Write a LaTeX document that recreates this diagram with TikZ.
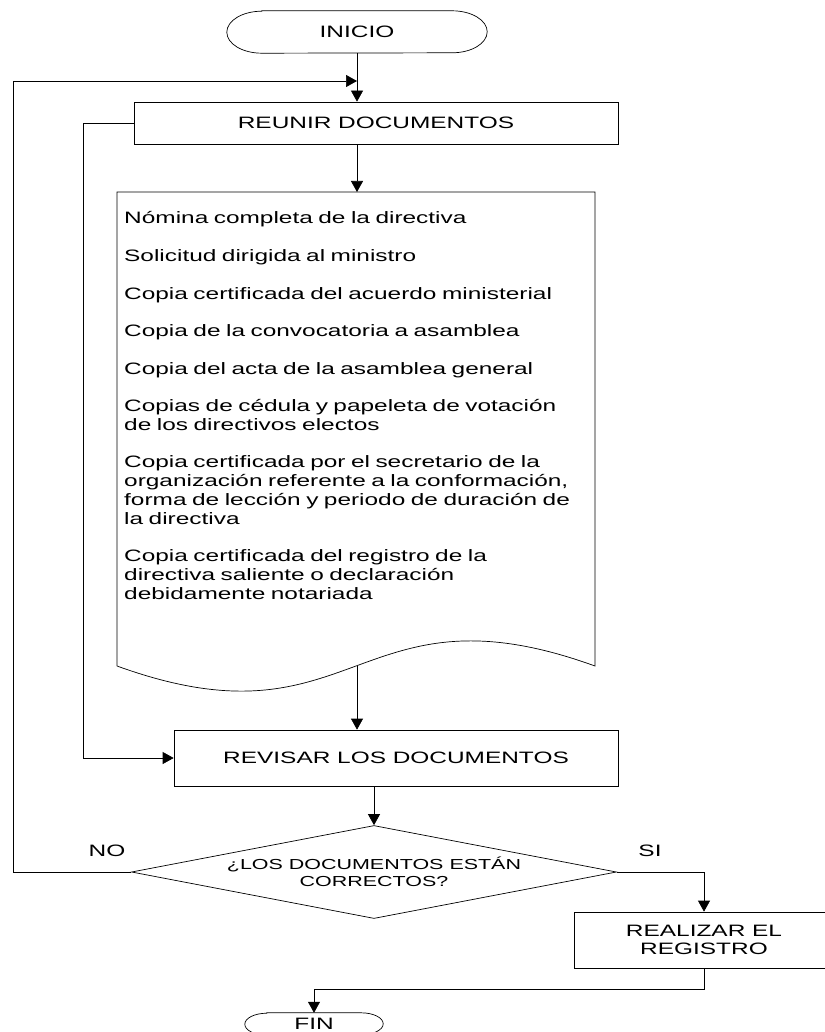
\documentclass[tikz,border=0pt]{standalone}
\usepackage{fontspec}
\setmainfont{Liberation Sans}[FakeStretch=1.48]
\usetikzlibrary{shapes.geometric, arrows.meta}

\begin{document}
\begin{tikzpicture}[x=1pt, y=-1pt,
box/.style={draw, line width=.7pt, inner sep=0pt, align=center, font=\fontsize{16.5}{18.75}\selectfont},
term/.style={inner sep=0pt, font=\fontsize{16.5}{18.75}\selectfont},
decision/.style={draw, diamond, aspect=5.2, line width=.7pt, inner sep=0pt, minimum width=485pt, minimum height=93pt, align=center, font=\fontsize{14.5}{17}\selectfont},
line/.style={line width=.7pt},
arrow/.style={line width=.7pt, -{Triangle[length=11pt, width=12pt]}},
lbl/.style={font=\fontsize{16.5}{18.75}\selectfont}]
\useasboundingbox (0,0) rectangle (824,1032);

\node (inicio) at (357,32) [term, minimum width=260pt, minimum height=42pt] {INICIO};
\draw [line] ([xshift=35pt]inicio.north west) -- ([xshift=-35pt]inicio.north east)
  arc [start angle=90, end angle=-90, x radius=35pt, y radius=21pt]
  -- ([xshift=35pt]inicio.south west)
  arc [start angle=270, end angle=90, x radius=35pt, y radius=21pt] -- cycle;

\node (reunir) at (376,123) [box, minimum width=484pt, minimum height=42pt] {REUNIR DOCUMENTOS};

% documento con borde ondulado
\coordinate (docin) at (357,192);
\coordinate (docout) at (357,666);
\draw [line] (117,666) -- (117,192) -- (595,192) -- (595,666)
  .. controls (355,579) and (357,753) .. (117,666);
\node (lista) at (124,224) [anchor=base west, text width=465pt, inner sep=0pt, align=left,
  font=\fontsize{16.5}{18.75}\selectfont] {%
Nómina completa de la directiva\\[18.75pt]
Solicitud dirigida al ministro\\[18.75pt]
Copia certificada del acuerdo ministerial\\[18.75pt]
Copia de la convocatoria a asamblea\\[18.75pt]
Copia del acta de la asamblea general\\[18.75pt]
Copias de cédula y papeleta de votación\\
de los directivos electos\\[18.75pt]
Copia certificada por el secretario de la\\
organización referente a la conformación,\\
forma de lección y periodo de duración de\\
la directiva\\[18.75pt]
Copia certificada del registro de la\\
directiva saliente o declaración\\
debidamente notariada};

\node (revisar) at (396,758) [box, minimum width=444pt, minimum height=56pt] {REVISAR LOS DOCUMENTOS};
\node (decide) at (374,872) [decision] {¿LOS DOCUMENTOS ESTÁN\\CORRECTOS?};
\node (registro) at (704,940) [box, minimum width=260pt, minimum height=56pt] {REALIZAR EL\\REGISTRO};

\node (fin) at (314,1024) [term, minimum width=138pt, minimum height=22pt] {FIN};
\draw [line] ([xshift=22pt]fin.north west) -- ([xshift=-22pt]fin.north east)
  arc [start angle=90, end angle=-90, x radius=22pt, y radius=11pt]
  -- ([xshift=22pt]fin.south west)
  arc [start angle=270, end angle=90, x radius=22pt, y radius=11pt] -- cycle;

\node (no) at (107,851) [lbl] {NO};
\node (si) at (650,851) [lbl] {SI};

\coordinate (lado) at (13,81);
\coordinate (lado2) at (83,758);
\coordinate (bajada) at (314,989);

\draw [arrow] (inicio.south) -- (inicio.south |- reunir.north);
\draw [arrow] (decide.west) -| (lado) -- (inicio.south |- lado);
\draw [arrow] (reunir.west) -| (lado2) -- (revisar.west);
\draw [arrow] (reunir.south -| docin) -- (docin);
\draw [arrow] (docout) -- (revisar.north -| docout);
\draw [arrow] (revisar.south -| decide.north) -- (decide.north);
\draw [arrow] (decide.east) -| (registro.north);
\draw [arrow] (registro.south) |- (bajada) -- (fin.north);
\end{tikzpicture}
\end{document}
